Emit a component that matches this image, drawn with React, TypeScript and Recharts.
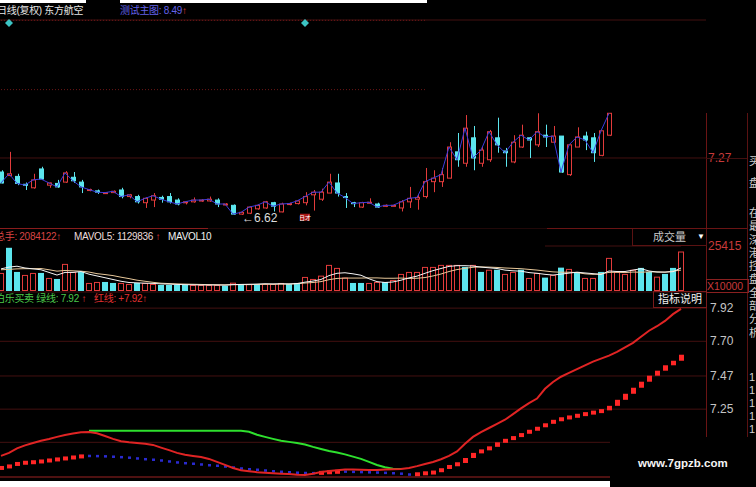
import React from "react";
import {
  Bar,
  CartesianGrid,
  ComposedChart,
  Line,
  ReferenceDot,
  ReferenceLine,
  XAxis,
  YAxis,
} from "recharts";

// daily candles (77 visible bars)
const candleOpen = [
  7.11, 7.07, 7.06, 6.97, 6.93, 7.145, 6.96, 6.98, 6.995, 7.05, 6.995, 6.9, 6.895, 6.87, 6.875, 6.905,
  6.83, 6.83, 6.76, 6.79, 6.82, 6.83, 6.79, 6.76, 6.77, 6.78, 6.78, 6.79, 6.74, 6.73, 6.63, 6.64,
  6.69, 6.7, 6.76, 6.655, 6.74, 6.75, 6.76, 6.85, 6.8, 6.87, 6.985, 6.83, 6.76, 6.71, 6.755, 6.745,
  6.72, 6.72, 6.7, 6.77, 6.8, 6.83, 7.0, 7.0, 7.04, 7.34, 7.21, 7.5, 7.21, 7.25, 7.5, 7.35,
  7.225, 7.395, 7.5, 7.42, 7.53, 7.45, 7.52, 7.08, 7.395, 7.52, 7.5, 7.3, 7.53,
];
const candleHigh = [
  7.13, 7.34, 7.09, 6.99, 7.09, 7.17, 6.99, 7.02, 7.12, 7.11, 7.02, 6.92, 6.91, 6.88, 6.9, 6.93,
  6.86, 6.85, 6.82, 6.87, 6.84, 6.87, 6.81, 6.78, 6.82, 6.8, 6.83, 6.81, 6.755, 6.74, 6.66, 6.72,
  6.74, 6.78, 6.77, 6.76, 6.76, 6.79, 6.88, 6.905, 6.92, 7.09, 7.09, 6.87, 6.77, 6.77, 6.81, 6.76,
  6.74, 6.74, 6.79, 6.94, 6.85, 7.156, 7.13, 7.156, 7.45, 7.555, 7.76, 7.635, 7.395, 7.59, 7.73, 7.385,
  7.53, 7.65, 7.51, 7.78, 7.65, 7.635, 7.52, 7.42, 7.62, 7.57, 7.555, 7.58, 7.78,
];
const candleLow = [
  6.98, 7.06, 6.96, 6.905, 6.92, 7.02, 6.93, 6.93, 6.985, 6.985, 6.87, 6.89, 6.86, 6.86, 6.87, 6.81,
  6.81, 6.75, 6.7, 6.71, 6.76, 6.75, 6.73, 6.74, 6.76, 6.77, 6.77, 6.71, 6.73, 6.625, 6.62, 6.63,
  6.68, 6.69, 6.66, 6.65, 6.73, 6.74, 6.73, 6.67, 6.78, 6.87, 6.83, 6.7, 6.71, 6.7, 6.75, 6.7,
  6.71, 6.72, 6.66, 6.7, 6.68, 6.81, 6.88, 6.94, 7.04, 7.17, 7.17, 7.13, 7.17, 7.225, 7.33, 7.17,
  7.21, 7.385, 7.27, 7.395, 7.395, 7.44, 7.1, 7.065, 7.395, 7.36, 7.225, 7.29, 7.52,
];
const candleClose = [
  6.985, 7.09, 6.98, 6.96, 7.02, 7.03, 6.985, 6.94, 7.1, 7.01, 6.94, 6.91, 6.88, 6.875, 6.89, 6.83,
  6.85, 6.77, 6.81, 6.84, 6.8, 6.77, 6.745, 6.77, 6.79, 6.79, 6.8, 6.745, 6.745, 6.63, 6.65, 6.71,
  6.73, 6.77, 6.72, 6.745, 6.75, 6.78, 6.83, 6.88, 6.88, 6.995, 6.87, 6.82, 6.75, 6.76, 6.765, 6.71,
  6.73, 6.73, 6.77, 6.81, 6.82, 7.0, 7.04, 7.08, 7.395, 7.25, 7.61, 7.27, 7.36, 7.57, 7.42, 7.33,
  7.45, 7.53, 7.475, 7.57, 7.51, 7.52, 7.11, 7.42, 7.51, 7.475, 7.33, 7.58, 7.78,
];
const signalBars = [1, 38];
const lowBar = 30;

// volume (x10000), 86 bars
const volume = [
  10200, 24400, 10770, 9070, 10200, 10200, 7370, 6800, 15300, 10770, 10770, 4540, 5100, 5100, 4540, 4540,
  3970, 4540, 4540, 3970, 3400, 3400, 3400, 3400, 3400, 3400, 3400, 3400, 3000, 4700, 3970, 3970,
  3970, 3970, 3970, 4540, 3970, 4540, 7940, 6800, 8670, 14740, 13040, 7560, 4540, 4540, 4540, 5100,
  5100, 6240, 9640, 10770, 10770, 13600, 13600, 14740, 14740, 14740, 13600, 14740, 10770, 12000, 12000, 9640,
  10770, 12000, 7370, 10200, 7560, 9070, 13200, 12470, 10770, 7370, 7370, 10770, 18700, 10770, 9640, 12000,
  13040, 10770, 8100, 9640, 13040, 22300,
];
const volumeDir = "udduududuuduudduuduudddduuuudududuuudduuuuuudduuduuuuuuuuudududuuduudududuuduuuudduddudu";
const mavol5 = [
  12500, 13500, 14000, 13000, 12500, 12000, 10500, 9000, 10500, 10500, 11000, 9500, 8500, 7500, 6500, 5500,
  4800, 4600, 4400, 4300, 4000, 3900, 3700, 3600, 3500, 3400, 3400, 3400, 3300, 3600, 3700, 3800,
  3900, 4100, 4000, 4100, 4000, 4200, 5000, 5600, 6500, 8700, 10000, 10300, 9700, 8900, 6900, 5300,
  4800, 5100, 6100, 7400, 8400, 10000, 11500, 12700, 13900, 14300, 14300, 14100, 13500, 13100, 12700, 11800,
  11400, 11200, 10400, 10000, 9400, 9000, 9500, 10100, 10600, 10200, 9800, 9300, 11300, 11000, 11000, 11800,
  12600, 11300, 10700, 10700, 10900, 13000,
];
const mavol10 = [
  12000, 12200, 12500, 12600, 12600, 12700, 12000, 11200, 11600, 11400, 11200, 10700, 9800, 9300, 8700, 7800,
  7000, 6100, 5500, 4900, 4400, 4200, 4000, 3900, 3800, 3700, 3600, 3500, 3500, 3600, 3600, 3600,
  3700, 3800, 3800, 3900, 3900, 4100, 4500, 4800, 5300, 6400, 7100, 7300, 7300, 7300, 7400, 7400,
  7200, 7200, 7300, 7100, 7200, 7600, 8500, 9600, 11000, 12100, 12800, 13400, 13600, 13500, 13300, 13000,
  12800, 12600, 12200, 11800, 11300, 10800, 10600, 10600, 10400, 9700, 9400, 9700, 10500, 10600, 10400, 10700,
  10600, 10800, 10800, 10600, 11200, 11800,
];

// 伯乐买卖 indicator
const redLine = [
  6.94, 6.96, 6.99, 7.01, 7.026, 7.04, 7.052, 7.066, 7.078, 7.088, 7.097, 7.099, 7.09, 7.072, 7.053, 7.037,
  7.03, 7.026, 7.02, 7.013, 6.995, 6.978, 6.96, 6.948, 6.94, 6.932, 6.92, 6.9, 6.88, 6.86, 6.845, 6.838,
  6.832, 6.828, 6.825, 6.822, 6.82, 6.815, 6.813, 6.822, 6.833, 6.84, 6.845, 6.85, 6.85, 6.848, 6.847, 6.847,
  6.85, 6.852, 6.853, 6.86, 6.872, 6.886, 6.9, 6.918, 6.94, 6.97, 7.02, 7.066, 7.098, 7.125, 7.152, 7.18,
  7.217, 7.255, 7.29, 7.32, 7.385, 7.43, 7.465, 7.49, 7.515, 7.54, 7.565, 7.585, 7.605, 7.63, 7.66, 7.69,
  7.73, 7.77, 7.8, 7.835, 7.88, 7.915,
];
const greenLine = [
  null, null, null, null, null, null, null, null, null, null, null, 7.106, 7.106, 7.106, 7.106, 7.106,
  7.106, 7.106, 7.106, 7.106, 7.106, 7.106, 7.106, 7.106, 7.106, 7.106, 7.106, 7.106, 7.106, 7.106, 7.106, 7.1,
  7.08, 7.066, 7.053, 7.04, 7.033, 7.026, 7.016, 7.0, 6.986, 6.973, 6.963, 6.95, 6.935, 6.92, 6.9, 6.88,
  6.865, 6.855, 6.853, null, null, null, null, null, null, null, null, null, null, null, null, null,
  null, null, null, null, null, null, null, null, null, null, null, null, null, null, null, null,
  null, null, null, null, null, null,
];
const stepLine = [
  6.86, 6.88, 6.893, 6.896, 6.9, 6.906, 6.913, 6.92, 6.926, 6.933, 6.94, 6.939, 6.938, 6.936, 6.933, 6.93,
  6.926, 6.92, 6.916, 6.913, 6.906, 6.9, 6.893, 6.89, 6.886, 6.88, 6.876, 6.873, 6.866, 6.86, 6.853, 6.85,
  6.846, 6.84, 6.836, 6.833, 6.83, 6.827, 6.826, 6.825, 6.83, 6.833, 6.836, 6.835, 6.833, 6.832, 6.83, 6.829,
  6.826, 6.824, 6.82, 6.813, 6.823, 6.826, 6.833, 6.857, 6.876, 6.893, 6.926, 6.96, 6.98, 7.0, 7.03, 7.05,
  7.066, 7.09, 7.11, 7.13, 7.156, 7.176, 7.19, 7.2, 7.212, 7.222, 7.232, 7.242, 7.272, 7.312, 7.352, 7.392,
  7.432, 7.472, 7.505, 7.541, 7.571, 7.611,
];

const dateTicks = [0, 11, 25, 42, 64];
const dateLabels = ["20", "09", "10", "11", "12"];
const priceTicks = [7.27];
const priceGuides = [8.84, 8.05];
const volumeTicks = [12947, 25415];
const indicatorTicks = [7.03, 7.25, 7.47, 7.7, 7.92];

const RED = "#e23b3b";
const CYAN = "#5ce6ee";
const GRID = "#431010";
const FONT = 'Arial, "Noto Sans CJK SC", sans-serif';

let lastUp = true;
const rows = volume.map((v, i) => {
  const has = i < candleOpen.length;
  const prev = i > 0 ? stepLine[i - 1] : stepLine[i];
  const cur = stepLine[i];
  if (cur > prev) lastUp = true;
  else if (cur < prev) lastUp = false;
  return {
    i,
    open: has ? candleOpen[i] : null,
    high: has ? candleHigh[i] : null,
    low: has ? candleLow[i] : null,
    close: has ? candleClose[i] : null,
    range: has ? [candleLow[i], candleHigh[i]] : null,
    vol: v,
    volUp: volumeDir[i] === "u",
    ma5: mavol5[i],
    ma10: mavol10[i],
    red: redLine[i],
    green: greenLine[i],
    step: [Math.min(prev, cur), Math.max(prev, cur)],
    stepUp: lastUp,
  };
});

function Candle(p: any) {
  const { x, y, width, height, payload } = p;
  if (!payload || payload.open == null) return null;
  const top = Math.min(y, y + height);
  const h = Math.abs(height);
  const { open, close, high, low } = payload;
  const k = high > low ? h / (high - low) : 0;
  const up = close >= open;
  const color = up ? RED : CYAN;
  const bodyTop = top + (high - Math.max(open, close)) * k;
  const bodyH = Math.max(1, Math.abs(close - open) * k);
  const cx = Math.round(x + width / 2) + 0.5;
  const bx = Math.round(x) + 0.5;
  return (
    <g>
      <line x1={cx} x2={cx} y1={top} y2={top + h} stroke={color} />
      <rect x={bx} y={bodyTop} width={width - 1} height={bodyH} fill={up ? "#000" : color} stroke={color} />
    </g>
  );
}

function VolBar(p: any) {
  const { x, y, width, height, payload } = p;
  const up = payload.volUp;
  const bx = Math.round(x) + 0.5;
  if (up) return <rect x={bx} y={y + 0.5} width={width - 1} height={height - 1} fill="none" stroke={RED} />;
  return <rect x={Math.round(x)} y={y} width={width} height={height} fill={CYAN} />;
}

function StepBlock(p: any) {
  const { x, y, width, height, payload } = p;
  const top = Math.min(y, y + height);
  const h = Math.abs(height);
  const up = payload.stepUp;
  const bh = Math.max(h, up ? 4 : 2.5);
  const bw = up ? 5 : 3;
  const cx = x + width / 2;
  return <rect x={cx - bw / 2} y={top + h / 2 - bh / 2} width={bw} height={bh} fill={up ? "#ff2626" : "#2a2ad0"} />;
}

function Diamond(p: any) {
  const { cx, cy } = p;
  return <path d={`M${cx},${cy - 4}L${cx + 4},${cy}L${cx},${cy + 4}L${cx - 4},${cy}Z`} fill="#3cc4c4" />;
}

function LowMark(p: any) {
  return (
    <text x={p.cx + 1} y={p.cy + 7} fill="#dcdcdc" fontSize={12} fontFamily={FONT}>
      {"\u2190" + candleLow[lowBar].toFixed(2)}
    </text>
  );
}

function Badge(p: any) {
  return (
    <g>
      <rect x={p.cx - 5} y={p.cy - 3} width={10} height={7} fill="#a81818" />
      <text x={p.cx} y={p.cy + 3} fill="#fff" fontSize={6} textAnchor="middle" fontFamily={FONT}>日才</text>
    </g>
  );
}

const tick = (color: string, dx: number, fmt: (v: number) => string) => (p: any) => (
  <text x={p.x + dx} y={p.y + 4} fill={color} fontSize={12} fontFamily={FONT}>
    {fmt(p.payload.value)}
  </text>
);

const dateTick = (p: any) => (
  <text x={p.x} y={p.y + 10} fill="#8a8a8a" fontSize={11} textAnchor="middle" fontFamily={FONT}>
    {dateLabels[dateTicks.indexOf(p.payload.value)]}
  </text>
);

const CHART_W = 759;
const pad = { left: 0, right: 21 };

const abs = (left: number, top: number, extra: React.CSSProperties = {}): React.CSSProperties => ({
  position: "absolute",
  left,
  top,
  whiteSpace: "nowrap",
  ...extra,
});

const head: React.CSSProperties = { fontSize: 10, lineHeight: "14px", letterSpacing: -0.3 };
const side: React.CSSProperties = { fontSize: 11, color: "#d0d0d0", whiteSpace: "normal", width: 12 };

export default function App() {
  return (
    <div
      style={{
        position: "fixed",
        left: 0,
        top: 0,
        width: 756,
        height: 487,
        background: "#000",
        overflow: "hidden",
        fontFamily: FONT,
      }}
    >
      {/* price panel */}
      <div style={abs(-3, 0)}>
        <ComposedChart width={CHART_W} height={229} data={rows} margin={{ top: 20, right: 0, bottom: 0, left: 0 }}>
          <CartesianGrid horizontal vertical={false} stroke={GRID} />
          <XAxis dataKey="i" type="category" hide padding={pad} />
          <YAxis
            orientation="right"
            width={50}
            domain={[6.46, 8.844]}
            ticks={priceTicks}
            axisLine={false}
            tickLine={false}
            tickSize={0}
            tickMargin={0}
            tick={tick("#c83a3a", 2, (v) => v.toFixed(2))}
          />
          {priceGuides.map((g) => (
            <ReferenceLine
              key={g}
              segment={[{ x: 0, y: g }, { x: 53, y: g }]}
              stroke="#6a1616"
              strokeDasharray="1 2"
            />
          ))}
          <Bar dataKey="range" barSize={5} shape={Candle} isAnimationActive={false} />
          <Line dataKey="close" stroke="#3c3cdc" strokeWidth={1} dot={false} isAnimationActive={false} />
          {signalBars.map((s) => (
            <ReferenceDot key={s} x={s} y={8.81} r={4} shape={Diamond} />
          ))}
          <ReferenceDot x={lowBar} y={candleLow[lowBar]} r={0} shape={LowMark} />
          <ReferenceDot x={signalBars[1]} y={6.6} r={0} shape={Badge} />
        </ComposedChart>
      </div>

      {/* volume panel */}
      <div style={abs(-3, 229)}>
        <ComposedChart width={CHART_W} height={62} data={rows} margin={{ top: 17, right: 0, bottom: 0, left: 0 }}>
          <XAxis dataKey="i" type="category" hide padding={pad} />
          <YAxis
            orientation="right"
            width={50}
            domain={[0, 25415]}
            ticks={volumeTicks}
            axisLine={false}
            tickLine={false}
            tickSize={0}
            tickMargin={0}
            tick={tick("#c83a3a", 2, (v) => String(v))}
          />
          <ReferenceLine segment={[{ x: 68, y: 25415 }, { x: 85, y: 25415 }]} stroke={GRID} />
          <Bar dataKey="vol" barSize={6} shape={VolBar} isAnimationActive={false} />
          <Line dataKey="ma10" stroke="#e8c89a" strokeWidth={1} dot={false} isAnimationActive={false} />
          <Line dataKey="ma5" stroke="#f4f4f4" strokeWidth={1} dot={false} isAnimationActive={false} />
        </ComposedChart>
      </div>

      {/* indicator panel */}
      <div style={abs(-3, 291)}>
        <ComposedChart width={CHART_W} height={196} data={rows} margin={{ top: 1, right: 0, bottom: 0, left: 0 }}>
          <CartesianGrid horizontal vertical={false} stroke={GRID} />
          <XAxis
            dataKey="i"
            type="category"
            padding={pad}
            height={10}
            ticks={dateTicks}
            interval={0}
            axisLine={{ stroke: "#7c1a1a" }}
            tickLine={false}
            tickSize={0}
            tick={dateTick}
          />
          <YAxis
            orientation="right"
            width={50}
            domain={[6.8, 8.027]}
            ticks={indicatorTicks}
            axisLine={false}
            tickLine={false}
            tickSize={0}
            tickMargin={0}
            tick={tick("#c4c4c4", 4, (v) => v.toFixed(2))}
          />
          <Bar dataKey="step" barSize={5} shape={StepBlock} isAnimationActive={false} />
          <Line dataKey="green" stroke="#2ee02e" strokeWidth={2} dot={false} isAnimationActive={false} />
          <Line dataKey="red" stroke="#e02424" strokeWidth={2} dot={false} isAnimationActive={false} />
        </ComposedChart>
      </div>

      {/* frame lines */}
      <div style={abs(0, 0, { width: 86, height: 3, background: "#fff" })} />
      <div style={abs(120, 0, { width: 307, height: 3, background: "#fff" })} />
      <div style={abs(0, 228, { width: 208, height: 1, background: "#8a1c1c" })} />
      <div style={abs(547, 228, { width: 200, height: 1, background: "#6a1414" })} />
      <div style={abs(706, 113, { width: 1, height: 325, background: "#6a1414" })} />
      <div style={abs(747, 113, { width: 1, height: 325, background: "#5a1212" })} />
      <div style={abs(706, 158, { width: 41, height: 1, background: GRID })} />

      {/* headers */}
      <div style={abs(-3, 4, { ...head, color: "#e6e6e6" })}>日线(复权) 东方航空</div>
      <div style={abs(120, 4, { ...head, color: "#6262e8" })}>
        测试主图: 8.49<span style={{ color: RED }}>{"\u2191"}</span>
      </div>
      <div style={abs(-5, 230, { ...head, color: "#d84444" })}>总手: 2084122{"\u2191"}</div>
      <div style={abs(74, 230, { ...head, color: "#ecdcdc" })}>
        MAVOL5: 1129836<span style={{ color: RED }}>{" \u2191"}</span>
      </div>
      <div style={abs(168, 230, { ...head, color: "#f0f0f0" })}>MAVOL10</div>
      <div style={abs(-5, 292, { ...head, color: "#4ac84a" })}>
        伯乐买卖 绿线: 7.92<span style={{ color: RED }}>{" \u2191"}</span>
      </div>
      <div style={abs(94, 292, { ...head, color: "#e03030" })}>红线: +7.92{"\u2191"}</div>

      {/* boxes */}
      <div
        style={abs(632, 229, {
          width: 73,
          height: 16,
          border: "1px solid #5a1212",
          borderTop: "none",
          fontSize: 11,
          lineHeight: "16px",
          color: "#c8c8c8",
        })}
      >
        <span style={{ position: "absolute", left: 20 }}>成交量</span>
        <span style={{ position: "absolute", left: 64, fontSize: 8, color: "#fff" }}>{"\u25BC"}</span>
      </div>
      <div
        style={abs(653, 291, {
          width: 52,
          height: 15,
          border: "1px solid #7a1a1a",
          fontSize: 11,
          lineHeight: "15px",
          color: "#f0f0f0",
          textAlign: "center",
        })}
      >
        指标说明
      </div>
      <div
        style={abs(706, 279, {
          width: 41,
          height: 12,
          border: "1px solid #8a2020",
          fontSize: 10.5,
          lineHeight: "12px",
          color: "#c83a3a",
        })}
      >
        X10000
      </div>

      {/* clipped side column */}
      <div style={abs(749, 150, { ...side, lineHeight: "22px" })}>
        买<br />盘
      </div>
      <div style={abs(749, 207, { ...side, lineHeight: "13.3px" })}>
        在<br />最<br />深<br />港<br />控<br />盘<br />全<br />部<br />分<br />析
      </div>
      <div style={abs(749, 371, { ...side, lineHeight: "13px" })}>
        1<br />1<br />1<br />1<br />1
      </div>

      {/* bottom bands */}
      <div style={abs(0, 481, { width: 610, height: 6, background: "#fff" })} />
      <div style={abs(610, 437, { width: 146, height: 50, background: "#000" })} />
      <div style={abs(638, 456, { fontSize: 11.5, fontWeight: "bold", lineHeight: "15px", color: "#f4f4f4" })}>
        www.7gpzb.com
      </div>
    </div>
  );
}
